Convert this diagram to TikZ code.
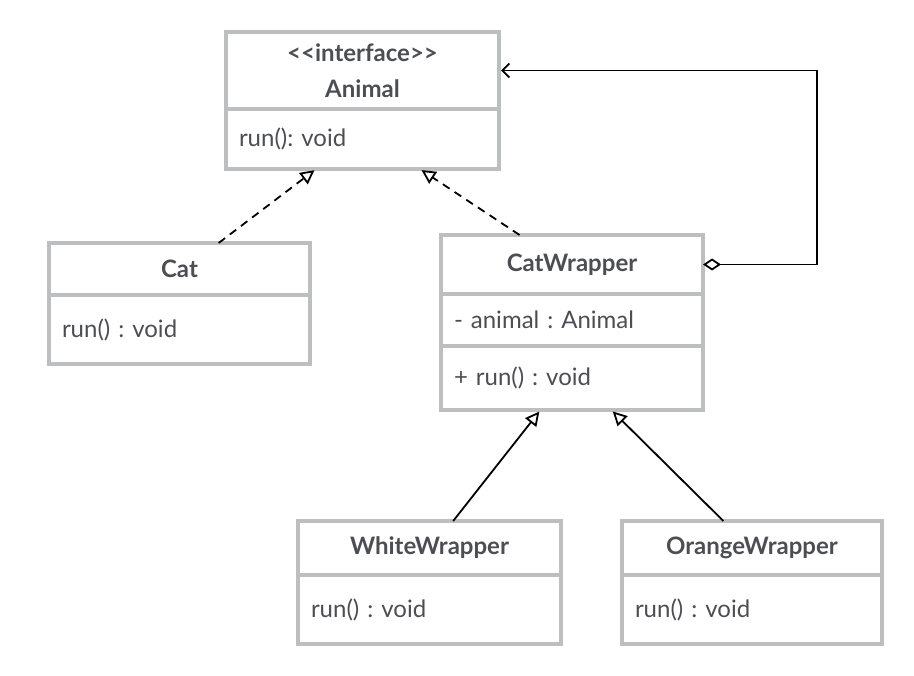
\documentclass[tikz,border=0pt]{standalone}
\usepackage{fontspec}
\setmainfont{Lato}
\frenchspacing
\usetikzlibrary{positioning,calc,arrows.meta}
\definecolor{boxgray}{HTML}{BCBEC0}
\definecolor{textgray}{HTML}{4D4E52}
\begin{document}
\begin{tikzpicture}[x=1pt, y=-1pt, line width=3.2pt,
  head/.style = {draw=boxgray, rectangle, outer sep=0pt, inner sep=0pt, text=textgray, align=center, font=\fontsize{24}{36}\selectfont\bfseries},
  comp/.style = {draw=boxgray, rectangle, outer sep=0pt, inner xsep=13pt, inner ysep=0pt, text=textgray, align=left, font=\fontsize{24}{30}\selectfont},
  realize/.style = {line width=1.8pt, dash pattern=on 8pt off 6pt, shorten >=2pt, -{Triangle[open, length=14pt, width=14pt]}},
  inherit/.style = {line width=1.8pt, shorten >=2pt, -{Triangle[open, length=14pt, width=14pt]}},
  aggr/.style = {line width=1.8pt, shorten >=2pt, {Diamond[open, length=18pt, width=12pt]}-{Straight Barb[length=7pt, width=14pt]}}]
\useasboundingbox (0,0) rectangle (914,676);
\node[head, minimum width=273pt, minimum height=77pt, anchor=north west] (animal) at (226,32) {{<}{<}interface{>}{>}\\Animal};
\node[comp, text width=247pt, minimum height=60pt, below=0pt of animal] (animalops) {run(): void};
\node[head, minimum width=261pt, minimum height=52pt, anchor=north west] (cat) at (49,243) {Cat};
\node[comp, text width=235pt, minimum height=69pt, below=0pt of cat] (catops) {run() : void};
\node[head, minimum width=262pt, minimum height=59pt, anchor=north west] (wrapper) at (441,235) {CatWrapper};
\node[comp, text width=236pt, minimum height=52pt, below=0pt of wrapper] (wrapperattr) {- animal : Animal};
\node[comp, text width=236pt, minimum height=64pt, below=0pt of wrapperattr] (wrapperops) {+ run() : void};
\node[head, minimum width=263pt, minimum height=54pt, anchor=north west] (white) at (298,521) {WhiteWrapper};
\node[comp, text width=237pt, minimum height=69pt, below=0pt of white] (whiteops) {run() : void};
\node[head, minimum width=260pt, minimum height=54pt, anchor=north west] (orange) at (622,521) {OrangeWrapper};
\node[comp, text width=234pt, minimum height=69pt, below=0pt of orange] (orangeops) {run() : void};
\draw[realize] ($(cat.north west)!0.65!(cat.north east)$) -- ($(animalops.south west)!0.33!(animalops.south east)$);
\draw[realize] ($(wrapper.north west)!0.30!(wrapper.north east)$) -- ($(animalops.south west)!0.71!(animalops.south east)$);
\draw[inherit] ($(white.north west)!0.59!(white.north east)$) -- ($(wrapperops.south west)!0.38!(wrapperops.south east)$);
\draw[inherit] ($(orange.north west)!0.39!(orange.north east)$) -- ($(wrapperops.south west)!0.65!(wrapperops.south east)$);
\draw[aggr] (wrapper.east) -- ++(114,0) |- (animal.east);
\end{tikzpicture}
\end{document}
